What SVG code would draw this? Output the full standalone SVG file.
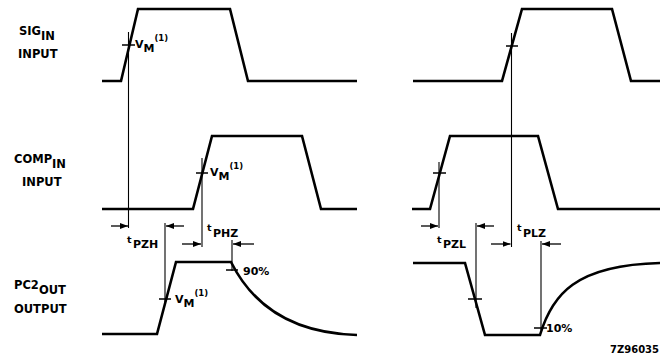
<svg xmlns="http://www.w3.org/2000/svg" width="660" height="359" viewBox="0 0 660 359">
<defs>
<style>
.w{fill:none;stroke:#000;stroke-width:2.6;stroke-linejoin:miter}
.v{fill:none;stroke:#000;stroke-width:1.1}
.k{fill:none;stroke:#000;stroke-width:1.6}
.a{fill:none;stroke:#000;stroke-width:1.3}
text{font-family:"DejaVu Sans","Liberation Sans",Arial,sans-serif;font-weight:bold;font-size:11px;fill:#000}
.l{font-size:11.5px}
.s{font-size:8.5px}
.sm{font-size:9.5px}
</style>
<marker id="ah" viewBox="0 0 8 6" refX="8" refY="3" markerWidth="8" markerHeight="6" markerUnits="userSpaceOnUse" orient="auto">
<path d="M0,0 L8,3 L0,6 Z" fill="#000"/>
</marker>
</defs>
<rect width="660" height="359" fill="#fff"/>

<g id="sig-in">
<text class="l" x="19" y="35">SIG<tspan dy="5">IN</tspan></text>
<text class="l" x="18" y="58">INPUT</text>
<path class="w" d="M102,81 H121 L138,9 H230 L248,81 H357"/>
<path class="w" d="M413,81 H502 L522,9 H612 L631,81 H660"/>
<path class="k" d="M122,45 H135 M506,46 H518"/>
<text x="135" y="48">V<tspan dy="4">M</tspan><tspan class="s" dy="-11">(1)</tspan></text>
</g>

<g id="comp-in">
<text class="l" x="14" y="163">COMP<tspan dy="5">IN</tspan></text>
<text class="l" x="22" y="186">INPUT</text>
<path class="w" d="M102,209 H193 L212,136 H302 L321,209 H357"/>
<path class="w" d="M412,209 H430 L450,136 H538 L558,209 H660"/>
<path class="k" d="M196,173 H208 M433,173 H446"/>
<text x="210" y="176">V<tspan dy="4">M</tspan><tspan class="s" dy="-11">(1)</tspan></text>
</g>

<g id="pc2-out">
<text class="l" x="14" y="289">PC2<tspan dy="5">OUT</tspan></text>
<text class="l" x="14" y="313">OUTPUT</text>
<path class="w" d="M102,334 H157 L176,262 H231 C250,300 285,333 357,335"/>
<path class="w" d="M413,263 H465 L485,335 H540 C552,295 575,265 660,263"/>
<path class="k" d="M159,299 H171 M468,299 H482 M226,270 H238 M534,328 H547"/>
<text x="175" y="303">V<tspan dy="4">M</tspan><tspan class="s" dy="-11">(1)</tspan></text>
<text x="243" y="275">90%</text>
<text x="546" y="332">10%</text>
</g>

<g id="connectors">
<path class="v" d="M128.5,32 V228 M165,223 V302 M202,158 V247 M232,240 V271 M439,162 V228 M476,223 V308 M511.5,33 V247 M541,241 V330"/>
<path class="a" marker-end="url(#ah)" d="M111,226 H128"/>
<path class="a" marker-end="url(#ah)" d="M184,226 H166"/>
<path class="a" marker-end="url(#ah)" d="M182,244 H201"/>
<path class="a" marker-end="url(#ah)" d="M254,244 H233"/>
<path class="a" marker-end="url(#ah)" d="M421,226 H438"/>
<path class="a" marker-end="url(#ah)" d="M494,226 H477"/>
<path class="a" marker-end="url(#ah)" d="M491,244 H510.5"/>
<path class="a" marker-end="url(#ah)" d="M561,244 H542"/>
</g>

<g id="timing-labels">
<text class="sm" x="127" y="243">t</text><text x="133" y="248">PZH</text>
<text class="sm" x="207" y="231">t</text><text x="213" y="237">PHZ</text>
<text class="sm" x="437" y="243">t</text><text x="443" y="248">PZL</text>
<text class="sm" x="517" y="231">t</text><text x="523" y="237">PLZ</text>
</g>

<text x="610" y="353" style="font-size:10px">7Z96035</text>
</svg>
